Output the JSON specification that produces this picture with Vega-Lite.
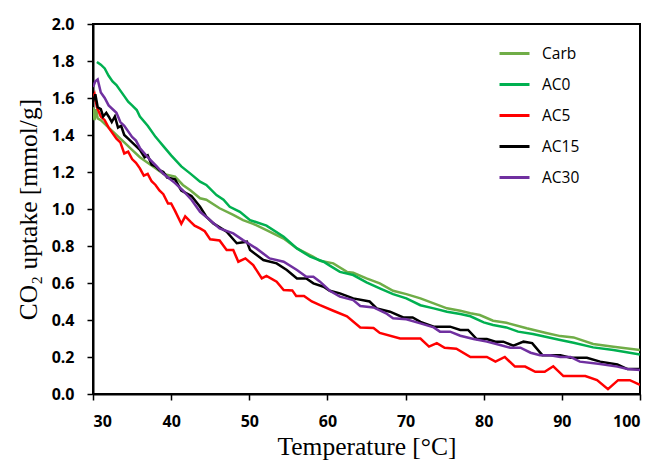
{
  "$schema": "https://vega.github.io/schema/vega-lite/v6.json",
  "width": 547,
  "height": 370,
  "autosize": "none",
  "padding": {"left": 93, "top": 24, "right": 18, "bottom": 67},
  "background": "white",
  "config": {
    "view": {"stroke": "black", "strokeWidth": 2},
    "axis": {"domainColor": "black", "domainWidth": 2, "tickColor": "black", "tickWidth": 1.5, "tickSize": 6, "grid": false,
      "labelFont": "Open Sans", "labelFontWeight": "bold", "labelFontSize": 16, "labelColor": "black",
      "titleFont": "Liberation Serif", "titleFontWeight": "normal", "titleFontSize": 25.5, "titleColor": "black"}
  },
  "data": {"values": [
    {"s":"Carb","T":30.0,"v":1.55},{"s":"Carb","T":30.2,"v":1.48},{"s":"Carb","T":30.4,"v":1.54},{"s":"Carb","T":30.6,"v":1.49},{"s":"Carb","T":31,"v":1.48},{"s":"Carb","T":31.5,"v":1.46},{"s":"Carb","T":32,"v":1.44},{"s":"Carb","T":33,"v":1.40},{"s":"Carb","T":34,"v":1.36},{"s":"Carb","T":35,"v":1.32},{"s":"Carb","T":36,"v":1.28},{"s":"Carb","T":37,"v":1.25},{"s":"Carb","T":38,"v":1.22},{"s":"Carb","T":39,"v":1.19},{"s":"Carb","T":40.5,"v":1.175},{"s":"Carb","T":41.5,"v":1.13},{"s":"Carb","T":42.5,"v":1.10},{"s":"Carb","T":43.7,"v":1.058},{"s":"Carb","T":44.5,"v":1.05},{"s":"Carb","T":46.2,"v":1.004},{"s":"Carb","T":47.95,"v":0.968},{"s":"Carb","T":49.2,"v":0.94},{"s":"Carb","T":50.5,"v":0.92},{"s":"Carb","T":52.2,"v":0.886},{"s":"Carb","T":54.4,"v":0.84},{"s":"Carb","T":56.1,"v":0.787},{"s":"Carb","T":58.2,"v":0.742},{"s":"Carb","T":59.05,"v":0.72},{"s":"Carb","T":60.75,"v":0.706},{"s":"Carb","T":62.5,"v":0.66},{"s":"Carb","T":63.3,"v":0.655},{"s":"Carb","T":65,"v":0.625},{"s":"Carb","T":66.7,"v":0.598},{"s":"Carb","T":68.4,"v":0.558},{"s":"Carb","T":70.1,"v":0.54},{"s":"Carb","T":71.9,"v":0.517},{"s":"Carb","T":73.6,"v":0.49},{"s":"Carb","T":75.3,"v":0.463},{"s":"Carb","T":77,"v":0.45},{"s":"Carb","T":78.3,"v":0.437},{"s":"Carb","T":79.5,"v":0.427},{"s":"Carb","T":81.2,"v":0.396},{"s":"Carb","T":82.9,"v":0.385},{"s":"Carb","T":85.5,"v":0.355},{"s":"Carb","T":88,"v":0.33},{"s":"Carb","T":89.8,"v":0.313},{"s":"Carb","T":91.5,"v":0.306},{"s":"Carb","T":94,"v":0.27},{"s":"Carb","T":96.6,"v":0.256},{"s":"Carb","T":100,"v":0.238},
    {"s":"AC0","T":30.5,"v":1.795},{"s":"AC0","T":31,"v":1.78},{"s":"AC0","T":31.5,"v":1.76},{"s":"AC0","T":32,"v":1.72},{"s":"AC0","T":32.5,"v":1.69},{"s":"AC0","T":33,"v":1.67},{"s":"AC0","T":33.5,"v":1.64},{"s":"AC0","T":34,"v":1.61},{"s":"AC0","T":34.5,"v":1.58},{"s":"AC0","T":35,"v":1.56},{"s":"AC0","T":35.6,"v":1.535},{"s":"AC0","T":36,"v":1.50},{"s":"AC0","T":37,"v":1.45},{"s":"AC0","T":38,"v":1.39},{"s":"AC0","T":38.4,"v":1.37},{"s":"AC0","T":39,"v":1.34},{"s":"AC0","T":40,"v":1.29},{"s":"AC0","T":41.3,"v":1.23},{"s":"AC0","T":42.5,"v":1.19},{"s":"AC0","T":43.7,"v":1.148},{"s":"AC0","T":44.5,"v":1.13},{"s":"AC0","T":45.8,"v":1.075},{"s":"AC0","T":46.7,"v":1.05},{"s":"AC0","T":47.5,"v":1.012},{"s":"AC0","T":48.8,"v":0.985},{"s":"AC0","T":50.1,"v":0.94},{"s":"AC0","T":52.2,"v":0.91},{"s":"AC0","T":54.4,"v":0.85},{"s":"AC0","T":56.1,"v":0.787},{"s":"AC0","T":57.8,"v":0.742},{"s":"AC0","T":59.5,"v":0.715},{"s":"AC0","T":60.3,"v":0.694},{"s":"AC0","T":61.6,"v":0.66},{"s":"AC0","T":63.3,"v":0.643},{"s":"AC0","T":65,"v":0.603},{"s":"AC0","T":66.7,"v":0.571},{"s":"AC0","T":68.4,"v":0.54},{"s":"AC0","T":70.1,"v":0.517},{"s":"AC0","T":71.9,"v":0.48},{"s":"AC0","T":73.6,"v":0.463},{"s":"AC0","T":75.3,"v":0.445},{"s":"AC0","T":77,"v":0.432},{"s":"AC0","T":78.3,"v":0.42},{"s":"AC0","T":80,"v":0.387},{"s":"AC0","T":81.2,"v":0.373},{"s":"AC0","T":82.9,"v":0.36},{"s":"AC0","T":84.4,"v":0.337},{"s":"AC0","T":86.3,"v":0.324},{"s":"AC0","T":89.8,"v":0.292},{"s":"AC0","T":91.5,"v":0.277},{"s":"AC0","T":94,"v":0.252},{"s":"AC0","T":96.6,"v":0.238},{"s":"AC0","T":100,"v":0.214},
    {"s":"AC5","T":30,"v":1.60},{"s":"AC5","T":30.2,"v":1.62},{"s":"AC5","T":30.5,"v":1.55},{"s":"AC5","T":31,"v":1.50},{"s":"AC5","T":31.5,"v":1.48},{"s":"AC5","T":32,"v":1.44},{"s":"AC5","T":33,"v":1.38},{"s":"AC5","T":33.5,"v":1.36},{"s":"AC5","T":34,"v":1.30},{"s":"AC5","T":34.5,"v":1.31},{"s":"AC5","T":35,"v":1.27},{"s":"AC5","T":35.5,"v":1.25},{"s":"AC5","T":36,"v":1.22},{"s":"AC5","T":36.5,"v":1.18},{"s":"AC5","T":37,"v":1.19},{"s":"AC5","T":37.5,"v":1.15},{"s":"AC5","T":38,"v":1.13},{"s":"AC5","T":38.5,"v":1.10},{"s":"AC5","T":39,"v":1.08},{"s":"AC5","T":39.6,"v":1.03},{"s":"AC5","T":40,"v":1.03},{"s":"AC5","T":40.5,"v":0.99},{"s":"AC5","T":41.3,"v":0.92},{"s":"AC5","T":41.8,"v":0.96},{"s":"AC5","T":42.5,"v":0.93},{"s":"AC5","T":43,"v":0.91},{"s":"AC5","T":43.7,"v":0.895},{"s":"AC5","T":44.3,"v":0.88},{"s":"AC5","T":45,"v":0.836},{"s":"AC5","T":46.2,"v":0.83},{"s":"AC5","T":47.1,"v":0.778},{"s":"AC5","T":47.95,"v":0.778},{"s":"AC5","T":48.6,"v":0.715},{"s":"AC5","T":49.5,"v":0.733},{"s":"AC5","T":50.5,"v":0.697},{"s":"AC5","T":51.6,"v":0.625},{"s":"AC5","T":52.2,"v":0.638},{"s":"AC5","T":53.5,"v":0.607},{"s":"AC5","T":54.4,"v":0.562},{"s":"AC5","T":55.5,"v":0.56},{"s":"AC5","T":56,"v":0.53},{"s":"AC5","T":57,"v":0.53},{"s":"AC5","T":58,"v":0.50},{"s":"AC5","T":59.05,"v":0.48},{"s":"AC5","T":60.75,"v":0.45},{"s":"AC5","T":62.5,"v":0.42},{"s":"AC5","T":64.2,"v":0.36},{"s":"AC5","T":65.9,"v":0.357},{"s":"AC5","T":66.7,"v":0.33},{"s":"AC5","T":69.3,"v":0.30},{"s":"AC5","T":71.9,"v":0.30},{"s":"AC5","T":73,"v":0.256},{"s":"AC5","T":74,"v":0.275},{"s":"AC5","T":75,"v":0.25},{"s":"AC5","T":76.5,"v":0.245},{"s":"AC5","T":78.3,"v":0.20},{"s":"AC5","T":80.4,"v":0.20},{"s":"AC5","T":81.5,"v":0.175},{"s":"AC5","T":82.7,"v":0.20},{"s":"AC5","T":84,"v":0.148},{"s":"AC5","T":85.3,"v":0.148},{"s":"AC5","T":86.6,"v":0.12},{"s":"AC5","T":87.8,"v":0.12},{"s":"AC5","T":88.9,"v":0.15},{"s":"AC5","T":90.2,"v":0.097},{"s":"AC5","T":93,"v":0.097},{"s":"AC5","T":94.5,"v":0.075},{"s":"AC5","T":95.9,"v":0.026},{"s":"AC5","T":97.2,"v":0.075},{"s":"AC5","T":98.7,"v":0.075},{"s":"AC5","T":100,"v":0.05},
    {"s":"AC15","T":30,"v":1.58},{"s":"AC15","T":30.3,"v":1.62},{"s":"AC15","T":30.6,"v":1.55},{"s":"AC15","T":31,"v":1.54},{"s":"AC15","T":31.3,"v":1.50},{"s":"AC15","T":31.7,"v":1.52},{"s":"AC15","T":32,"v":1.50},{"s":"AC15","T":32.4,"v":1.47},{"s":"AC15","T":32.8,"v":1.50},{"s":"AC15","T":33.2,"v":1.44},{"s":"AC15","T":33.6,"v":1.45},{"s":"AC15","T":34,"v":1.40},{"s":"AC15","T":34.5,"v":1.38},{"s":"AC15","T":35,"v":1.36},{"s":"AC15","T":35.5,"v":1.34},{"s":"AC15","T":36,"v":1.32},{"s":"AC15","T":36.6,"v":1.28},{"s":"AC15","T":37,"v":1.29},{"s":"AC15","T":37.5,"v":1.24},{"s":"AC15","T":38,"v":1.23},{"s":"AC15","T":38.5,"v":1.21},{"s":"AC15","T":39,"v":1.20},{"s":"AC15","T":39.5,"v":1.17},{"s":"AC15","T":40.5,"v":1.16},{"s":"AC15","T":41.3,"v":1.10},{"s":"AC15","T":42.6,"v":1.07},{"s":"AC15","T":43.7,"v":1.012},{"s":"AC15","T":44.5,"v":0.958},{"s":"AC15","T":45.4,"v":0.922},{"s":"AC15","T":47.1,"v":0.877},{"s":"AC15","T":48.4,"v":0.815},{"s":"AC15","T":49.7,"v":0.823},{"s":"AC15","T":50.1,"v":0.778},{"s":"AC15","T":51.8,"v":0.724},{"s":"AC15","T":53.5,"v":0.706},{"s":"AC15","T":54.8,"v":0.67},{"s":"AC15","T":56.1,"v":0.625},{"s":"AC15","T":57.3,"v":0.625},{"s":"AC15","T":58.2,"v":0.598},{"s":"AC15","T":59.5,"v":0.58},{"s":"AC15","T":60.3,"v":0.558},{"s":"AC15","T":61.6,"v":0.544},{"s":"AC15","T":63.3,"v":0.517},{"s":"AC15","T":65.4,"v":0.5},{"s":"AC15","T":66.3,"v":0.463},{"s":"AC15","T":68,"v":0.445},{"s":"AC15","T":69.7,"v":0.414},{"s":"AC15","T":70.9,"v":0.414},{"s":"AC15","T":71.9,"v":0.39},{"s":"AC15","T":73.6,"v":0.364},{"s":"AC15","T":75.7,"v":0.364},{"s":"AC15","T":77,"v":0.346},{"s":"AC15","T":78,"v":0.346},{"s":"AC15","T":79.1,"v":0.297},{"s":"AC15","T":80.4,"v":0.297},{"s":"AC15","T":81.5,"v":0.283},{"s":"AC15","T":82.5,"v":0.283},{"s":"AC15","T":83.8,"v":0.261},{"s":"AC15","T":85.1,"v":0.283},{"s":"AC15","T":86.2,"v":0.275},{"s":"AC15","T":87.5,"v":0.21},{"s":"AC15","T":89.8,"v":0.21},{"s":"AC15","T":91.1,"v":0.196},{"s":"AC15","T":93.2,"v":0.196},{"s":"AC15","T":94.9,"v":0.175},{"s":"AC15","T":97.1,"v":0.16},{"s":"AC15","T":98.4,"v":0.135},{"s":"AC15","T":100,"v":0.135},
    {"s":"AC30","T":30,"v":1.66},{"s":"AC30","T":30.3,"v":1.69},{"s":"AC30","T":30.6,"v":1.70},{"s":"AC30","T":31,"v":1.63},{"s":"AC30","T":31.5,"v":1.60},{"s":"AC30","T":32,"v":1.56},{"s":"AC30","T":33,"v":1.52},{"s":"AC30","T":33.5,"v":1.47},{"s":"AC30","T":34,"v":1.45},{"s":"AC30","T":35,"v":1.39},{"s":"AC30","T":35.5,"v":1.37},{"s":"AC30","T":36,"v":1.33},{"s":"AC30","T":36.6,"v":1.30},{"s":"AC30","T":37,"v":1.28},{"s":"AC30","T":38.15,"v":1.23},{"s":"AC30","T":39,"v":1.19},{"s":"AC30","T":40.5,"v":1.14},{"s":"AC30","T":41.5,"v":1.10},{"s":"AC30","T":42.6,"v":1.05},{"s":"AC30","T":43.7,"v":0.985},{"s":"AC30","T":44.7,"v":0.95},{"s":"AC30","T":46.2,"v":0.895},{"s":"AC30","T":47.95,"v":0.868},{"s":"AC30","T":49.2,"v":0.832},{"s":"AC30","T":50.9,"v":0.787},{"s":"AC30","T":52.6,"v":0.733},{"s":"AC30","T":54.4,"v":0.715},{"s":"AC30","T":56.1,"v":0.67},{"s":"AC30","T":57.3,"v":0.634},{"s":"AC30","T":58.2,"v":0.634},{"s":"AC30","T":59.05,"v":0.607},{"s":"AC30","T":60.3,"v":0.558},{"s":"AC30","T":61.6,"v":0.526},{"s":"AC30","T":63.3,"v":0.508},{"s":"AC30","T":64.2,"v":0.476},{"s":"AC30","T":65.9,"v":0.468},{"s":"AC30","T":67.5,"v":0.436},{"s":"AC30","T":68.4,"v":0.409},{"s":"AC30","T":70.1,"v":0.404},{"s":"AC30","T":71.9,"v":0.382},{"s":"AC30","T":73.6,"v":0.36},{"s":"AC30","T":74.4,"v":0.337},{"s":"AC30","T":75.7,"v":0.337},{"s":"AC30","T":77,"v":0.315},{"s":"AC30","T":78.7,"v":0.297},{"s":"AC30","T":80.4,"v":0.283},{"s":"AC30","T":82.1,"v":0.265},{"s":"AC30","T":83.4,"v":0.25},{"s":"AC30","T":84.7,"v":0.25},{"s":"AC30","T":86,"v":0.223},{"s":"AC30","T":87.2,"v":0.21},{"s":"AC30","T":88.5,"v":0.21},{"s":"AC30","T":89.8,"v":0.2},{"s":"AC30","T":91.1,"v":0.2},{"s":"AC30","T":92.3,"v":0.175},{"s":"AC30","T":94.9,"v":0.162},{"s":"AC30","T":97.1,"v":0.148},{"s":"AC30","T":98.4,"v":0.135},{"s":"AC30","T":100,"v":0.13}
  ]},
  "mark": {"type": "line", "strokeWidth": 2.5, "clip": true},
  "encoding": {
    "x": {"field": "T", "type": "quantitative", "scale": {"domain": [30, 100], "nice": false},
      "axis": {"values": [30,40,50,60,70,80,90,100], "title": "Temperature [°C]", "labelPadding": 13, "titlePadding": 5}},
    "y": {"field": "v", "type": "quantitative", "scale": {"domain": [0, 2], "nice": false},
      "axis": {"values": [0,0.2,0.4,0.6,0.8,1.0,1.2,1.4,1.6,1.8,2.0], "format": ".1f", "title": "CO₂ uptake [mmol/g]", "labelPadding": 13, "titlePadding": 10}},
    "color": {"field": "s", "type": "nominal",
      "scale": {"domain": ["Carb","AC0","AC5","AC15","AC30"], "range": ["#70ad47","#00b050","#ff0000","#000000","#7030a0"]},
      "legend": {"title": null, "orient": "none", "legendX": 405, "legendY": 13, "symbolType": "stroke", "symbolSize": 900, "symbolStrokeWidth": 3,
        "labelFont": "Open Sans", "labelFontSize": 15.5, "labelColor": "black", "labelOffset": 11, "rowPadding": 6, "padding": 0}},
    "order": {"field": "T", "type": "quantitative"}
  }
}
